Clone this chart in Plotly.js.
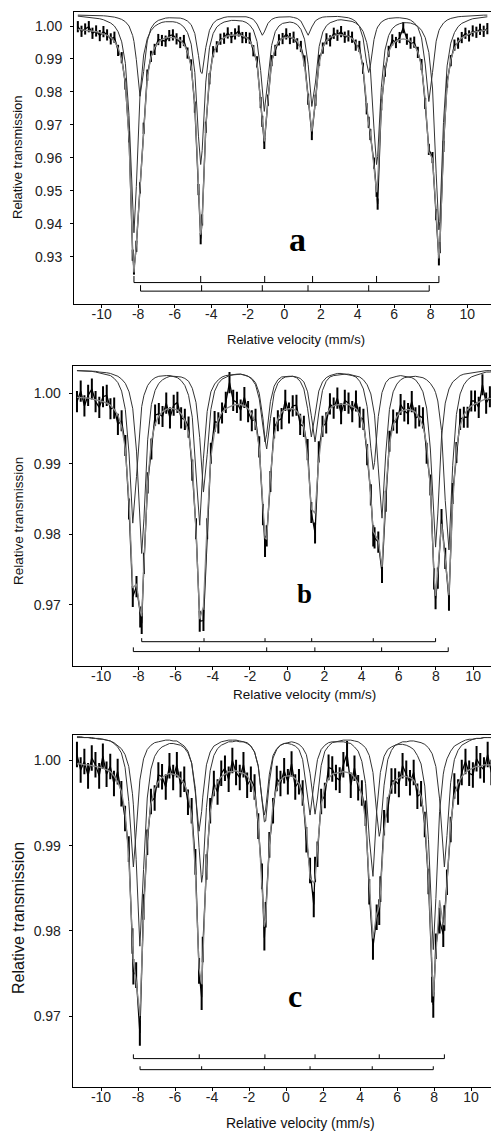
<!DOCTYPE html>
<html><head><meta charset="utf-8">
<script src="https://cdn.plot.ly/plotly-3.0.1.min.js"></script>
<style>html,body{margin:0;padding:0;background:#fff}#chart{width:491px;height:1132px}</style>
</head><body><div id="chart"></div>
<script>
// ---------- Panel a ----------
const velocityA = [-11.3,-11.1,-10.9,-10.7,-10.5,-10.3,-10.1,-9.9,-9.7,-9.5,
-9.3,-9.1,-8.9,-8.7,-8.5,-8.3,-8.23,-8.1,-7.9,-7.7,
-7.5,-7.3,-7.1,-6.9,-6.7,-6.5,-6.3,-6.1,-5.9,-5.7,
-5.5,-5.3,-5.1,-4.9,-4.7,-4.58,-4.5,-4.3,-4.1,-3.9,
-3.7,-3.5,-3.3,-3.1,-2.9,-2.7,-2.5,-2.3,-2.1,-1.9,
-1.7,-1.5,-1.3,-1.21,-1.1,-0.9,-0.7,-0.5,-0.3,-0.1,
0.1,0.3,0.5,0.7,0.9,1.1,1.3,1.5,1.7,1.9,
2.1,2.3,2.5,2.7,2.9,3.1,3.3,3.5,3.7,3.9,
4.1,4.3,4.5,4.61,4.7,4.9,5.04,5.1,5.3,5.5,
5.7,5.9,6.1,6.3,6.5,6.7,6.9,7.1,7.3,7.5,
7.7,7.9,8.1,8.3,8.45,8.5,8.7,8.9,9.1,9.3,
9.5,9.7,9.9,10.1,10.3,10.5,10.7,10.9,11.1];
const measuredA = [0.9998,0.9984,0.9991,0.9998,0.9978,0.9985,0.9971,0.9983,0.9973,0.9961,
0.9966,0.9926,0.9904,0.9824,0.9664,0.9305,0.9263,0.9332,0.9509,0.9690,
0.9851,0.9908,0.9929,0.9959,0.9956,0.9954,0.9971,0.9973,0.9961,0.9950,
0.9956,0.9918,0.9882,0.9754,0.9504,0.9355,0.9412,0.9693,0.9840,0.9922,
0.9937,0.9960,0.9963,0.9979,0.9965,0.9976,0.9985,0.9965,0.9965,0.9963,
0.9925,0.9891,0.9768,0.9711,0.9644,0.9775,0.9895,0.9926,0.9958,0.9962,
0.9976,0.9962,0.9966,0.9946,0.9938,0.9894,0.9778,0.9671,0.9775,0.9896,
0.9933,0.9961,0.9955,0.9978,0.9972,0.9983,0.9966,0.9970,0.9966,0.9942,
0.9938,0.9872,0.9749,0.9708,0.9671,0.9584,0.9499,0.9460,0.9761,0.9863,
0.9923,0.9958,0.9950,0.9965,0.9995,0.9960,0.9948,0.9951,0.9920,0.9883,
0.9765,0.9626,0.9601,0.9428,0.9291,0.9328,0.9635,0.9830,0.9895,0.9942,
0.9948,0.9965,0.9978,0.9970,0.9985,0.9981,0.9990,0.9984,0.9992];
const fitTotalA = [0.9990,0.9989,0.9988,0.9987,0.9985,0.9983,0.9980,0.9977,0.9972,0.9965,
0.9954,0.9934,0.9899,0.9827,0.9655,0.9319,0.9253,0.9338,0.9505,0.9701,
0.9844,0.9906,0.9935,0.9950,0.9959,0.9964,0.9966,0.9965,0.9963,0.9957,
0.9945,0.9922,0.9876,0.9763,0.9501,0.9367,0.9405,0.9692,0.9848,0.9912,
0.9942,0.9956,0.9965,0.9970,0.9972,0.9973,0.9973,0.9971,0.9966,0.9955,
0.9935,0.9886,0.9771,0.9700,0.9650,0.9773,0.9888,0.9935,0.9954,0.9963,
0.9966,0.9967,0.9963,0.9954,0.9932,0.9881,0.9782,0.9680,0.9773,0.9888,
0.9936,0.9956,0.9966,0.9971,0.9974,0.9974,0.9972,0.9969,0.9962,0.9950,
0.9926,0.9875,0.9764,0.9702,0.9678,0.9574,0.9496,0.9528,0.9753,0.9873,
0.9921,0.9944,0.9954,0.9959,0.9961,0.9959,0.9954,0.9942,0.9922,0.9878,
0.9777,0.9618,0.9598,0.9435,0.9295,0.9326,0.9643,0.9824,0.9898,0.9933,
0.9953,0.9964,0.9971,0.9976,0.9981,0.9983,0.9985,0.9987,0.9988];
const sextetOuterA = [1.0030,1.0029,1.0028,1.0027,1.0026,1.0024,1.0022,1.0019,1.0015,1.0009,
1.0000,0.9983,0.9952,0.9887,0.9728,0.9421,0.9373,0.9513,0.9791,0.9912,
0.9962,0.9986,0.9999,1.0006,1.0011,1.0013,1.0014,1.0013,1.0011,1.0006,
0.9997,0.9980,0.9945,0.9859,0.9664,0.9580,0.9622,0.9830,0.9934,0.9977,
0.9997,1.0006,1.0012,1.0015,1.0017,1.0017,1.0017,1.0015,1.0011,1.0003,
0.9988,0.9953,0.9865,0.9801,0.9741,0.9838,0.9941,0.9983,1.0000,1.0008,
1.0011,1.0012,1.0010,1.0004,0.9990,0.9960,0.9883,0.9756,0.9830,0.9938,
0.9982,1.0001,1.0010,1.0015,1.0018,1.0019,1.0018,1.0017,1.0014,1.0009,
1.0000,0.9984,0.9950,0.9916,0.9872,0.9688,0.9580,0.9604,0.9814,0.9927,
0.9971,0.9992,1.0002,1.0007,1.0010,1.0010,1.0009,1.0005,0.9999,0.9987,
0.9965,0.9920,0.9812,0.9554,0.9382,0.9407,0.9707,0.9879,0.9948,0.9980,
0.9998,1.0008,1.0014,1.0018,1.0022,1.0024,1.0026,1.0027,1.0028];
const sextetInnerA = [1.0033,1.0033,1.0033,1.0033,1.0032,1.0032,1.0031,1.0031,1.0030,1.0029,
1.0027,1.0024,1.0020,1.0013,1.0000,0.9971,0.9953,0.9898,0.9787,0.9862,
0.9955,0.9993,1.0009,1.0017,1.0021,1.0024,1.0025,1.0025,1.0025,1.0024,
1.0021,1.0015,1.0004,0.9977,0.9910,0.9860,0.9856,0.9935,0.9987,1.0008,
1.0018,1.0023,1.0026,1.0028,1.0028,1.0029,1.0029,1.0029,1.0028,1.0025,
1.0020,1.0006,0.9979,0.9972,0.9982,1.0008,1.0020,1.0025,1.0027,1.0028,
1.0028,1.0028,1.0026,1.0023,1.0015,0.9994,0.9972,0.9997,1.0016,1.0023,
1.0027,1.0028,1.0029,1.0029,1.0029,1.0028,1.0027,1.0025,1.0021,1.0014,
0.9999,0.9964,0.9887,0.9859,0.9879,0.9959,0.9989,0.9997,1.0012,1.0019,
1.0023,1.0025,1.0025,1.0025,1.0024,1.0022,1.0018,1.0010,0.9996,0.9964,
0.9885,0.9771,0.9859,0.9954,0.9986,0.9992,1.0009,1.0018,1.0023,1.0026,
1.0028,1.0029,1.0030,1.0031,1.0032,1.0032,1.0032,1.0033,1.0033];
const linesOuterA = [-8.23,-4.58,-1.08,1.54,5.04,8.45];
const linesInnerA = [-7.87,-4.53,-1.21,1.29,4.61,7.92];

// ---------- Panel b ----------
const velocityB = [-11.3,-11.1,-10.9,-10.7,-10.5,-10.3,-10.1,-9.9,-9.7,-9.5,
-9.3,-9.1,-8.9,-8.7,-8.5,-8.3,-8.1,-7.9,-7.82,-7.7,
-7.5,-7.3,-7.1,-6.9,-6.7,-6.5,-6.3,-6.1,-5.9,-5.7,
-5.5,-5.3,-5.1,-4.9,-4.7,-4.5,-4.3,-4.1,-3.9,-3.7,
-3.5,-3.3,-3.1,-2.9,-2.7,-2.5,-2.3,-2.1,-1.9,-1.7,
-1.5,-1.3,-1.19,-1.1,-0.9,-0.7,-0.5,-0.3,-0.1,0.1,
0.3,0.5,0.7,0.9,1.1,1.3,1.5,1.7,1.9,2.1,
2.3,2.5,2.7,2.9,3.1,3.3,3.5,3.7,3.9,4.1,
4.3,4.5,4.63,4.7,4.9,5.1,5.3,5.5,5.7,5.9,
6.1,6.3,6.5,6.7,6.9,7.1,7.3,7.5,7.7,7.9,
7.98,8.1,8.3,8.5,8.7,8.9,9.1,9.3,9.5,9.7,
9.9,10.1,10.3,10.5,10.7,10.9,11.1];
const measuredB = [0.9988,1.0003,0.9982,0.9997,1.0006,0.9988,0.9980,0.9995,0.9997,0.9978,
0.9979,0.9956,0.9961,0.9926,0.9836,0.9712,0.9726,0.9683,0.9674,0.9759,
0.9873,0.9921,0.9969,0.9971,0.9967,0.9986,0.9965,0.9983,0.9987,0.9965,
0.9963,0.9952,0.9891,0.9808,0.9677,0.9678,0.9808,0.9915,0.9960,0.9958,
0.9972,0.9987,1.0015,0.9990,0.9987,0.9976,0.9994,0.9974,0.9961,0.9963,
0.9924,0.9828,0.9783,0.9798,0.9875,0.9951,0.9961,0.9964,0.9990,0.9972,
0.9982,0.9983,0.9956,0.9953,0.9920,0.9831,0.9802,0.9917,0.9953,0.9958,
0.9985,0.9979,0.9993,0.9971,0.9990,0.9986,0.9974,0.9989,0.9966,0.9963,
0.9913,0.9856,0.9798,0.9795,0.9789,0.9746,0.9847,0.9932,0.9962,0.9958,
0.9984,0.9975,0.9971,0.9988,0.9965,0.9968,0.9965,0.9915,0.9870,0.9737,
0.9709,0.9738,0.9821,0.9766,0.9707,0.9858,0.9916,0.9963,0.9966,0.9966,
0.9989,0.9989,0.9980,1.0012,0.9986,0.9995,0.9984];
const fitTotalB = [0.9994,0.9994,0.9994,0.9993,0.9992,0.9991,0.9989,0.9988,0.9986,0.9983,
0.9977,0.9969,0.9953,0.9921,0.9846,0.9724,0.9730,0.9691,0.9684,0.9749,
0.9875,0.9932,0.9956,0.9968,0.9974,0.9977,0.9979,0.9978,0.9976,0.9971,
0.9962,0.9944,0.9903,0.9804,0.9680,0.9698,0.9817,0.9909,0.9946,0.9963,
0.9973,0.9978,0.9981,0.9983,0.9984,0.9984,0.9982,0.9978,0.9971,0.9957,
0.9922,0.9841,0.9795,0.9793,0.9882,0.9940,0.9963,0.9973,0.9977,0.9978,
0.9978,0.9975,0.9968,0.9952,0.9910,0.9836,0.9830,0.9905,0.9950,0.9969,
0.9978,0.9982,0.9984,0.9985,0.9984,0.9984,0.9981,0.9978,0.9970,0.9955,
0.9923,0.9851,0.9804,0.9801,0.9791,0.9754,0.9859,0.9928,0.9955,0.9967,
0.9974,0.9976,0.9977,0.9976,0.9973,0.9965,0.9954,0.9928,0.9865,0.9741,
0.9713,0.9748,0.9815,0.9764,0.9714,0.9844,0.9921,0.9954,0.9969,0.9977,
0.9982,0.9985,0.9988,0.9990,0.9992,0.9992,0.9993];
const sextetOuterB = [1.0032,1.0032,1.0032,1.0031,1.0031,1.0030,1.0029,1.0028,1.0027,1.0025,
1.0021,1.0015,1.0003,0.9977,0.9914,0.9816,0.9882,0.9964,0.9981,0.9997,
1.0011,1.0018,1.0022,1.0024,1.0025,1.0025,1.0025,1.0024,1.0022,1.0018,
1.0011,0.9997,0.9966,0.9887,0.9813,0.9908,0.9974,1.0002,1.0013,1.0019,
1.0023,1.0025,1.0026,1.0027,1.0027,1.0027,1.0026,1.0024,1.0021,1.0015,
1.0000,0.9964,0.9934,0.9921,0.9964,1.0000,1.0014,1.0020,1.0023,1.0024,
1.0024,1.0023,1.0021,1.0016,1.0002,0.9968,0.9931,0.9972,1.0004,1.0017,
1.0023,1.0025,1.0026,1.0027,1.0027,1.0027,1.0026,1.0025,1.0023,1.0019,
1.0012,0.9999,0.9982,0.9969,0.9894,0.9823,0.9914,0.9977,1.0002,1.0013,
1.0019,1.0022,1.0023,1.0024,1.0024,1.0023,1.0022,1.0019,1.0014,1.0006,
1.0001,0.9989,0.9947,0.9848,0.9778,0.9898,0.9970,0.9999,1.0012,1.0019,
1.0023,1.0025,1.0027,1.0029,1.0030,1.0030,1.0031];
const sextetInnerB = [1.0032,1.0032,1.0032,1.0032,1.0031,1.0031,1.0030,1.0030,1.0029,1.0028,
1.0026,1.0024,1.0020,1.0014,1.0002,0.9978,0.9918,0.9797,0.9773,0.9822,
0.9934,0.9984,1.0004,1.0014,1.0019,1.0022,1.0024,1.0024,1.0024,1.0023,
1.0021,1.0017,1.0007,0.9987,0.9937,0.9860,0.9913,0.9977,1.0003,1.0014,
1.0020,1.0023,1.0025,1.0026,1.0027,1.0027,1.0026,1.0024,1.0020,1.0012,
0.9992,0.9947,0.9931,0.9942,0.9988,1.0010,1.0019,1.0023,1.0024,1.0024,
1.0024,1.0022,1.0017,1.0006,0.9978,0.9938,0.9969,1.0003,1.0016,1.0022,
1.0025,1.0027,1.0028,1.0028,1.0027,1.0027,1.0025,1.0023,1.0017,1.0006,
0.9981,0.9922,0.9892,0.9902,0.9967,1.0001,1.0015,1.0021,1.0023,1.0024,
1.0025,1.0024,1.0024,1.0022,1.0019,1.0012,1.0002,0.9979,0.9921,0.9805,
0.9782,0.9829,0.9938,0.9986,1.0006,1.0016,1.0021,1.0025,1.0027,1.0028,
1.0029,1.0030,1.0031,1.0031,1.0032,1.0032,1.0032];
const linesInnerB = [-7.82,-4.47,-1.19,1.32,4.63,7.98];
const linesOuterB = [-8.27,-4.72,-1.10,1.49,5.08,8.66];

// ---------- Panel c ----------
const velocityC = [-11.3,-11.1,-10.9,-10.7,-10.5,-10.3,-10.1,-9.9,-9.7,-9.5,
-9.3,-9.1,-8.9,-8.7,-8.5,-8.3,-8.25,-8.1,-7.9,-7.7,
-7.5,-7.3,-7.1,-6.9,-6.7,-6.5,-6.3,-6.1,-5.9,-5.7,
-5.5,-5.3,-5.1,-4.9,-4.7,-4.56,-4.5,-4.3,-4.1,-3.9,
-3.7,-3.5,-3.3,-3.1,-2.9,-2.7,-2.5,-2.3,-2.1,-1.9,
-1.7,-1.5,-1.3,-1.17,-1.1,-0.9,-0.7,-0.5,-0.3,-0.1,
0.1,0.3,0.5,0.7,0.9,1.1,1.3,1.5,1.57,1.7,
1.9,2.1,2.3,2.5,2.7,2.9,3.1,3.3,3.5,3.7,
3.9,4.1,4.3,4.5,4.7,4.9,5.04,5.1,5.3,5.5,
5.7,5.9,6.1,6.3,6.5,6.7,6.9,7.1,7.3,7.5,
7.7,7.9,7.96,8.1,8.3,8.5,8.56,8.7,8.9,9.1,
9.3,9.5,9.7,9.9,10.1,10.3,10.5,10.7,10.9,11.1];
const measuredC = [1.0007,0.9989,0.9999,0.9982,1.0003,0.9995,0.9982,1.0005,0.9984,0.9993,
0.9973,0.9987,0.9961,0.9932,0.9896,0.9788,0.9752,0.9748,0.9680,0.9828,
0.9904,0.9952,0.9956,0.9983,0.9981,0.9969,0.9994,0.9980,0.9995,0.9972,
0.9978,0.9951,0.9941,0.9881,0.9753,0.9722,0.9778,0.9875,0.9941,0.9973,
0.9963,0.9985,0.9991,0.9978,1.0000,0.9986,0.9980,0.9995,0.9971,0.9978,
0.9969,0.9923,0.9864,0.9792,0.9819,0.9901,0.9941,0.9979,0.9973,0.9988,
0.9975,0.9996,0.9969,0.9975,0.9962,0.9907,0.9871,0.9831,0.9872,0.9890,
0.9952,0.9959,0.9992,0.9990,0.9980,0.9977,0.9995,1.0008,0.9971,0.9991,
0.9968,0.9962,0.9938,0.9846,0.9781,0.9816,0.9822,0.9849,0.9927,0.9942,
0.9976,0.9976,0.9972,0.9994,0.9985,0.9974,0.9986,0.9958,0.9961,0.9925,
0.9858,0.9731,0.9713,0.9782,0.9812,0.9796,0.9815,0.9857,0.9919,0.9970,
0.9963,0.9986,0.9999,0.9985,0.9983,1.0002,0.9994,0.9989,1.0007,0.9986];
const fitTotalC = [0.9996,0.9996,0.9995,0.9995,0.9994,0.9993,0.9992,0.9991,0.9989,0.9987,
0.9982,0.9975,0.9964,0.9940,0.9886,0.9783,0.9764,0.9741,0.9700,0.9815,
0.9910,0.9949,0.9967,0.9975,0.9980,0.9983,0.9985,0.9984,0.9983,0.9979,
0.9973,0.9961,0.9935,0.9870,0.9756,0.9738,0.9764,0.9881,0.9939,0.9964,
0.9975,0.9981,0.9984,0.9987,0.9987,0.9988,0.9986,0.9985,0.9982,0.9975,
0.9961,0.9928,0.9852,0.9805,0.9813,0.9900,0.9950,0.9968,0.9977,0.9981,
0.9982,0.9982,0.9979,0.9973,0.9957,0.9919,0.9862,0.9856,0.9862,0.9898,
0.9948,0.9970,0.9979,0.9984,0.9985,0.9986,0.9987,0.9986,0.9985,0.9980,
0.9974,0.9959,0.9929,0.9856,0.9791,0.9820,0.9829,0.9844,0.9917,0.9955,
0.9969,0.9977,0.9980,0.9982,0.9981,0.9980,0.9977,0.9969,0.9958,0.9930,
0.9863,0.9740,0.9723,0.9772,0.9836,0.9808,0.9807,0.9855,0.9926,0.9959,
0.9973,0.9981,0.9986,0.9989,0.9991,0.9993,0.9993,0.9995,0.9995,0.9995];
const sextetOuterC = [1.0028,1.0028,1.0027,1.0027,1.0027,1.0026,1.0026,1.0025,1.0024,1.0023,
1.0020,1.0016,1.0009,0.9992,0.9952,0.9881,0.9875,0.9916,0.9977,1.0002,
1.0013,1.0018,1.0021,1.0022,1.0023,1.0024,1.0024,1.0023,1.0023,1.0020,
1.0017,1.0011,0.9997,0.9962,0.9917,0.9940,0.9957,0.9995,1.0010,1.0017,
1.0020,1.0022,1.0023,1.0024,1.0024,1.0024,1.0023,1.0022,1.0021,1.0017,
1.0010,0.9994,0.9956,0.9928,0.9929,0.9975,1.0003,1.0013,1.0018,1.0020,
1.0021,1.0022,1.0021,1.0019,1.0015,1.0007,0.9985,0.9944,0.9937,0.9956,
0.9994,1.0011,1.0017,1.0021,1.0022,1.0023,1.0024,1.0024,1.0024,1.0023,
1.0022,1.0019,1.0015,1.0006,0.9986,0.9939,0.9911,0.9917,0.9971,1.0001,
1.0012,1.0018,1.0020,1.0022,1.0022,1.0023,1.0023,1.0022,1.0021,1.0019,
1.0015,1.0008,1.0004,0.9993,0.9955,0.9883,0.9875,0.9912,0.9974,1.0001,
1.0012,1.0018,1.0021,1.0023,1.0025,1.0026,1.0026,1.0027,1.0027,1.0027];
const sextetInnerC = [1.0027,1.0027,1.0027,1.0027,1.0026,1.0026,1.0025,1.0025,1.0024,1.0023,
1.0021,1.0018,1.0014,1.0007,0.9993,0.9961,0.9948,0.9884,0.9782,0.9872,
0.9956,0.9990,1.0005,1.0012,1.0016,1.0018,1.0020,1.0020,1.0019,1.0018,
1.0015,1.0009,0.9997,0.9967,0.9898,0.9857,0.9866,0.9945,0.9988,1.0006,
1.0014,1.0018,1.0020,1.0022,1.0022,1.0023,1.0022,1.0022,1.0020,1.0017,
1.0010,0.9993,0.9955,0.9936,0.9943,0.9984,1.0006,1.0014,1.0018,1.0020,
1.0020,1.0019,1.0017,1.0013,1.0001,0.9971,0.9936,0.9971,0.9984,1.0001,
1.0013,1.0018,1.0021,1.0022,1.0022,1.0022,1.0022,1.0021,1.0020,1.0016,
1.0011,0.9999,0.9973,0.9909,0.9864,0.9940,0.9977,0.9986,1.0005,1.0013,
1.0016,1.0018,1.0019,1.0019,1.0018,1.0016,1.0013,1.0006,0.9996,0.9970,
0.9907,0.9791,0.9778,0.9838,0.9940,0.9984,0.9991,1.0002,1.0011,1.0017,
1.0020,1.0022,1.0024,1.0025,1.0025,1.0026,1.0026,1.0027,1.0027,1.0027];
const linesOuterC = [-8.25,-4.69,-1.14,1.57,5.04,8.56];
const linesInnerC = [-7.89,-4.56,-1.17,1.30,4.66,7.96];

// ---------- Tick labels ----------
const velocityTicks = [-10,-8,-6,-4,-2,0,2,4,6,8,10];
const velocityTickText = ['-10','-8','-6','-4','-2','0','2','4','6','8','10'];
const transTicksA = [0.93,0.94,0.95,0.96,0.97,0.98,0.99,1.00];
const transTextA = ['0.93','0.94','0.95','0.96','0.97','0.98','0.99','1.00'];
const transTicksBC = [0.97,0.98,0.99,1.00];
const transTextBC = ['0.97','0.98','0.99','1.00'];

// ---------- Drawing ----------
const SANS = '"Liberation Sans", Arial, Helvetica, sans-serif';
const SERIF = '"Liberation Serif", "Times New Roman", Times, serif';

function stickTrace(pos, level, top, xa, ya) {
  const x = [pos[0], pos[pos.length - 1], null];
  const y = [level, level, null];
  pos.forEach(p => { x.push(p, p, null); y.push(level, top, null); });
  return {type: 'scatter', mode: 'lines', x: x, y: y, xaxis: xa, yaxis: ya,
          line: {color: '#000', width: 1}, hoverinfo: 'skip', connectgaps: false};
}
function panelTraces(v, meas, tot, cO, cI, err, xa, ya) {
  return [
    {type: 'scatter', mode: 'lines', x: v, y: meas, xaxis: xa, yaxis: ya,
     line: {color: '#000', width: 1.3},
     error_y: {type: 'constant', value: err, color: '#000', thickness: 2, width: 0},
     hoverinfo: 'skip'},
    {type: 'scatter', mode: 'lines', x: v, y: tot, xaxis: xa, yaxis: ya,
     line: {color: '#8a8a8a', width: 1.3}, hoverinfo: 'skip'},
    {type: 'scatter', mode: 'lines', x: v, y: cO, xaxis: xa, yaxis: ya,
     line: {color: '#333', width: 1}, hoverinfo: 'skip'},
    {type: 'scatter', mode: 'lines', x: v, y: cI, xaxis: xa, yaxis: ya,
     line: {color: '#333', width: 1}, hoverinfo: 'skip'}
  ];
}

const traces = [].concat(
  panelTraces(velocityA, measuredA, fitTotalA, sextetOuterA, sextetInnerA, 0.0017, 'x', 'y'),
  [stickTrace(linesOuterA, 0.9222, 0.9242, 'x', 'y'),
   stickTrace(linesInnerA, 0.9196, 0.9214, 'x', 'y')],
  panelTraces(velocityB, measuredB, fitTotalB, sextetOuterB, sextetInnerB, 0.0015, 'x2', 'y2'),
  [stickTrace(linesInnerB, 0.9648, 0.9653, 'x2', 'y2'),
   stickTrace(linesOuterB, 0.9634, 0.9640, 'x2', 'y2')],
  panelTraces(velocityC, measuredC, fitTotalC, sextetOuterC, sextetInnerC, 0.0015, 'x3', 'y3'),
  [stickTrace(linesOuterC, 0.9650, 0.9655, 'x3', 'y3'),
   stickTrace(linesInnerC, 0.9637, 0.9641, 'x3', 'y3')]
);

const W = 491, H = 1132;
function axisBase() {
  return {showline: true, linecolor: '#000', linewidth: 1, mirror: true,
          ticks: 'outside', ticklen: 4, tickwidth: 1, tickcolor: '#000',
          showgrid: false, zeroline: false, fixedrange: true,
          tickfont: {family: SANS, size: 14, color: '#222'}};
}
function xAxis(range, left, anchor) {
  return Object.assign(axisBase(), {domain: [left / W, 1], range: range, anchor: anchor,
    ticklen: 3, ticklabelstandoff: -6,
    tickmode: 'array', tickvals: velocityTicks, ticktext: velocityTickText});
}
function yAxis(range, topPx, bottomPx, anchor, vals, text) {
  return Object.assign(axisBase(), {domain: [(H - bottomPx) / H, (H - topPx) / H], range: range,
    anchor: anchor, ticklen: 3, ticklabelstandoff: 5,
    tickmode: 'array', tickvals: vals, ticktext: text});
}
function ann(text, px, py, size, opts) {
  return Object.assign({text: text, x: px / W, y: (H - py) / H, xref: 'paper', yref: 'paper',
    showarrow: false, xanchor: 'center', yanchor: 'middle',
    font: {family: SANS, size: size, color: '#111'}}, opts || {});
}

const layout = {
  width: W, height: H, margin: {l: 0, r: 0, t: 0, b: 0},
  paper_bgcolor: '#fff', plot_bgcolor: '#fff', showlegend: false,
  xaxis: xAxis([-11.51, 11.30], 74, 'y'),
  yaxis: yAxis([0.9157, 1.00425], 12, 304, 'x', transTicksA, transTextA),
  xaxis2: xAxis([-11.53, 10.96], 72.7, 'y2'),
  yaxis2: yAxis([0.9614, 1.0039], 365.7, 665.7, 'x2', transTicksBC, transTextBC),
  xaxis3: xAxis([-11.53, 11.08], 72.7, 'y3'),
  yaxis3: yAxis([0.9617, 1.0030], 735, 1086.7, 'x3', transTicksBC, transTextBC),
  annotations: [
    ann('Relative transmission', 18, 157, 13, {textangle: -90}),
    ann('Relative transmission', 18, 521, 13.5, {textangle: -90}),
    ann('Relative transmission', 18, 918, 16, {textangle: -90}),
    ann('Relative velocity (mm/s)', 295.5, 339, 13),
    ann('Relative velocity (mm/s)', 304, 694, 13.5),
    ann('Relative velocity (mm/s)', 300, 1123, 14),
    ann('<b>a</b>', 297, 240, 34, {font: {family: SERIF, size: 34, color: '#000'}}),
    ann('<b>b</b>', 304, 594, 27, {font: {family: SERIF, size: 27, color: '#000'}}),
    ann('<b>c</b>', 295, 996, 32, {font: {family: SERIF, size: 32, color: '#000'}})
  ]
};

Plotly.newPlot('chart', traces, layout, {staticPlot: true, displayModeBar: false});
</script></body></html>
